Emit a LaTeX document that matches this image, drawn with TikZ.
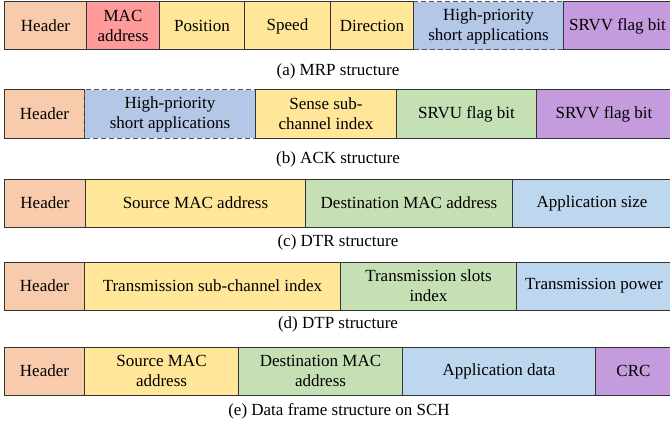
\documentclass[tikz,border=0pt]{standalone}
\usepackage{fontspec}
\setmainfont{Liberation Serif}

\definecolor{hdrpeach}{HTML}{F8CBAD}
\definecolor{macred}{HTML}{FF9B9B}
\definecolor{fyellow}{HTML}{FFE699}
\definecolor{fgrayblue}{HTML}{B4C7E7}
\definecolor{fpurple}{HTML}{C49CDE}
\definecolor{fgreen}{HTML}{C5E0B4}
\definecolor{fblue}{HTML}{BDD7EE}

\tikzset{
  field/.style={draw=black!80, line width=1pt, anchor=west, minimum height=48pt,
    inner sep=1pt, align=center, font=\rmfamily\fontsize{17}{20}\selectfont},
  dfield/.style={field, draw=black!65, dash pattern=on 5pt off 3pt},
  capt/.style={font=\rmfamily\fontsize{17}{20}\selectfont}
}

\begin{document}
\begin{tikzpicture}[x=1pt,y=-1pt]
  \useasboundingbox (0,0) rectangle (670,428);

  % (a) MRP
  \node[field,fill=hdrpeach,minimum width=82pt]  (mrpHdr) at (4,26)   {Header};
  \node[field,fill=macred,minimum width=73pt]    (mrpMac) at (86,26)  {MAC\\address};
  \node[field,fill=fyellow,minimum width=85pt]   (mrpPos) at (159,26) {Position};
  \node[field,fill=fyellow,minimum width=86pt]   (mrpSpd) at (244,26) {Speed};
  \node[dfield,fill=fgrayblue,minimum width=150pt] (mrpHpa) at (413,26) {High-priority\\short applications};
  \node[field,fill=fyellow,minimum width=83pt]   (mrpDir) at (330,26) {Direction};
  \node[field,fill=fpurple,minimum width=108pt]  (mrpSrvv) at (563,26) {SRVV flag bit};
  \node[capt] (mrpCap) at (338,71) {(a) MRP structure};

  % (b) ACK
  \node[field,fill=hdrpeach,minimum width=80pt]  (ackHdr) at (4,114)  {Header};
  \node[dfield,fill=fgrayblue,minimum width=171pt] (ackHpa) at (84,114) {High-priority\\short applications};
  \node[field,fill=fyellow,minimum width=141pt]  (ackSense) at (255,114) {Sense sub-\\channel index};
  \node[field,fill=fgreen,minimum width=140pt]   (ackSrvu) at (396,114) {SRVU flag bit};
  \node[field,fill=fpurple,minimum width=135pt]  (ackSrvv) at (536,114) {SRVV flag bit};
  \node[capt] (ackCap) at (338,159) {(b) ACK structure};

  % (c) DTR
  \node[field,fill=hdrpeach,minimum width=81pt]  (dtrHdr) at (4,203)   {Header};
  \node[field,fill=fyellow,minimum width=220pt]  (dtrSrc) at (85,203)  {Source MAC address};
  \node[field,fill=fgreen,minimum width=207pt]   (dtrDst) at (305,203) {Destination MAC address};
  \node[field,fill=fblue,minimum width=159pt]    (dtrSize) at (512,203) {Application size};
  \node[capt] (dtrCap) at (338,242) {(c) DTR structure};

  % (d) DTP
  \node[field,fill=hdrpeach,minimum width=80pt]  (dtpHdr) at (4,286)   {Header};
  \node[field,fill=fyellow,minimum width=256pt]  (dtpSub) at (84,286)  {Transmission sub-channel index};
  \node[field,fill=fgreen,minimum width=176pt]   (dtpSlot) at (340,286) {Transmission slots\\index};
  \node[field,fill=fblue,minimum width=155pt]    (dtpPow) at (516,286) {Transmission power};
  \node[capt] (dtpCap) at (338,324) {(d) DTP structure};

  % (e) data frame on SCH
  \node[field,fill=hdrpeach,minimum width=80pt]  (schHdr) at (4,371)   {Header};
  \node[field,fill=fyellow,minimum width=154pt]  (schSrc) at (84,371)  {Source MAC\\address};
  \node[field,fill=fgreen,minimum width=164pt]   (schDst) at (238,371) {Destination MAC\\address};
  \node[field,fill=fblue,minimum width=193pt]    (schData) at (402,371) {Application data};
  \node[field,fill=fpurple,minimum width=76pt]   (schCrc) at (595,371) {CRC};
  \node[capt] (schCap) at (339,411) {(e) Data frame structure on SCH};
\end{tikzpicture}
\end{document}
